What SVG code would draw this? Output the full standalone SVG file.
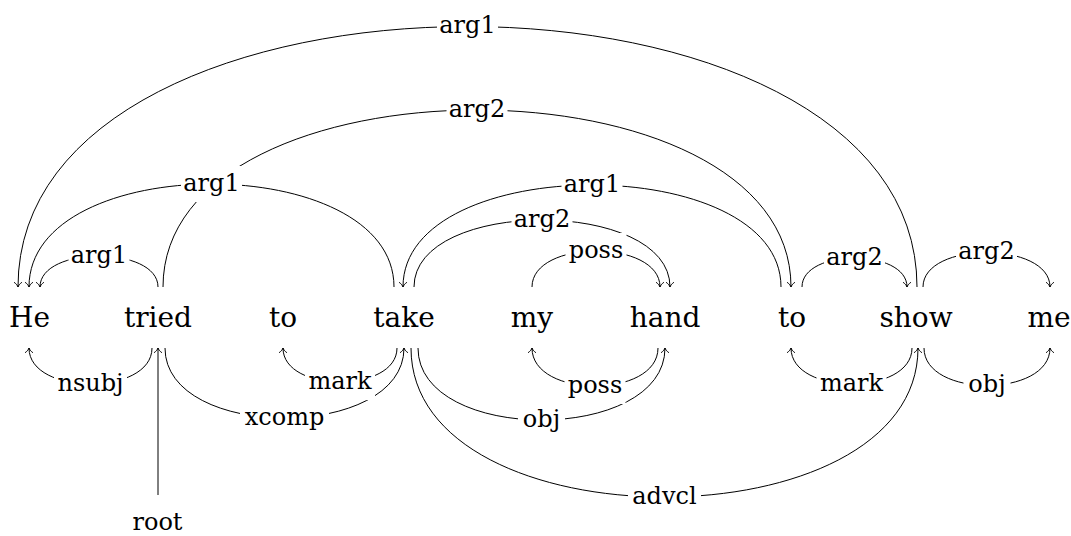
<svg xmlns="http://www.w3.org/2000/svg" width="1071" height="536" viewBox="0 0 1071 536">
<style>
.word{font-family:"DejaVu Serif","Liberation Serif","Noto Serif",Times,serif;font-size:28px;fill:#000;text-anchor:middle}
.lbl{font-family:"DejaVu Serif","Liberation Serif","Noto Serif",Times,serif;font-size:24px;fill:#000;text-anchor:middle}
.arr{fill:none;stroke:#000;stroke-width:1;marker-end:url(#ah)}
.box{fill:#fff;stroke:none}
</style>
<defs>
<marker id="ah" markerUnits="userSpaceOnUse" markerWidth="12" markerHeight="12" viewBox="-6 -6 12 12" refX="0" refY="0" orient="auto" overflow="visible">
<path d="M-4.5,-3.6 C-3.2,-1.6 -1.2,-0.4 0,0 C-1.2,0.4 -3.2,1.6 -4.5,3.6" fill="none" stroke="#000" stroke-width="1" stroke-linecap="round"/>
</marker>
</defs>
<rect width="1071" height="536" fill="#fff"/>
<g id="connectors">
<g id="edge-paths">
<path class="arr" d="M917,287 C917,-60.3 18,-60.3 18,287"/>
<path class="arr" d="M163,287 C163,51 791,51 791,287"/>
<path class="arr" d="M394,287 C394,149.7 29,149.7 29,287"/>
<path class="arr" d="M781,287 C781,151 403,151 403,287"/>
<path class="arr" d="M414,287 C414,197.7 670,197.7 670,287"/>
<path class="arr" d="M158,287 C158,245.7 40,245.7 40,287"/>
<path class="arr" d="M532,287 C532,239 660,239 660,287"/>
<path class="arr" d="M802,287 C802,248.3 907,248.3 907,287"/>
<path class="arr" d="M923,287 C923,241 1050,241 1050,287"/>
<path class="arr" d="M152,348 C152,396 29,396 29,348"/>
<path class="arr" d="M397,348 C397,393.3 283,393.3 283,348"/>
<path class="arr" d="M165,348 C165,441.3 404,441.3 404,348"/>
<path class="arr" d="M658,348 C658,398.7 532,398.7 532,348"/>
<path class="arr" d="M418,348 C418,444 665,444 665,348"/>
<path class="arr" d="M411,348 C411,546.7 918,546.7 918,348"/>
<path class="arr" d="M912,348 C912,396 791,396 791,348"/>
<path class="arr" d="M924,348 C924,398 1050,398 1050,348"/>
<path class="arr" d="M158,495 L158,348"/>
</g>
<g id="edge-labels">
<rect class="box" x="437" y="8.5" width="61" height="36"/><text class="lbl" x="467.5" y="33">arg1</text>
<rect class="box" x="446.5" y="92" width="61" height="36"/><text class="lbl" x="477" y="116.5">arg2</text>
<rect class="box" x="181" y="166" width="61" height="36"/><text class="lbl" x="211.5" y="190.5">arg1</text>
<rect class="box" x="561.5" y="167" width="61" height="36"/><text class="lbl" x="592" y="191.5">arg1</text>
<rect class="box" x="511.5" y="202" width="61" height="36"/><text class="lbl" x="542" y="226.5">arg2</text>
<rect class="box" x="68.5" y="238" width="61" height="36"/><text class="lbl" x="99" y="262.5">arg1</text>
<rect class="box" x="565.5" y="233" width="61" height="36"/><text class="lbl" x="596" y="257.5">poss</text>
<rect class="box" x="824" y="240" width="61" height="36"/><text class="lbl" x="854.5" y="264.5">arg2</text>
<rect class="box" x="956" y="234.5" width="61" height="36"/><text class="lbl" x="986.5" y="259">arg2</text>
<rect class="box" x="54" y="366" width="73" height="36"/><text class="lbl" x="90.5" y="390.5">nsubj</text>
<rect class="box" x="305" y="364" width="70" height="36"/><text class="lbl" x="340" y="388.5">mark</text>
<rect class="box" x="240" y="400" width="89" height="36"/><text class="lbl" x="284.5" y="424.5">xcomp</text>
<rect class="box" x="564.5" y="368" width="61" height="36"/><text class="lbl" x="595" y="392.5">poss</text>
<rect class="box" x="518" y="402" width="47" height="36"/><text class="lbl" x="541.5" y="426.5">obj</text>
<rect class="box" x="628" y="479" width="73" height="36"/><text class="lbl" x="664.5" y="503.5">advcl</text>
<rect class="box" x="816.5" y="366" width="70" height="36"/><text class="lbl" x="851.5" y="390.5">mark</text>
<rect class="box" x="963.5" y="367.5" width="47" height="36"/><text class="lbl" x="987" y="392">obj</text>
<text class="lbl" x="157.5" y="530">root</text>
</g>
</g>
<g id="w-He"><text class="word" x="29.5" y="327">He</text></g>
<g id="w-tried"><text class="word" x="158" y="327">tried</text></g>
<g id="w-to1"><text class="word" x="283" y="327">to</text></g>
<g id="w-take"><text class="word" x="404" y="327">take</text></g>
<g id="w-my"><text class="word" x="532" y="327">my</text></g>
<g id="w-hand"><text class="word" x="665" y="327">hand</text></g>
<g id="w-to2"><text class="word" x="792" y="327">to</text></g>
<g id="w-show"><text class="word" x="916" y="327">show</text></g>
<g id="w-me"><text class="word" x="1049" y="327">me</text></g>
</svg>
